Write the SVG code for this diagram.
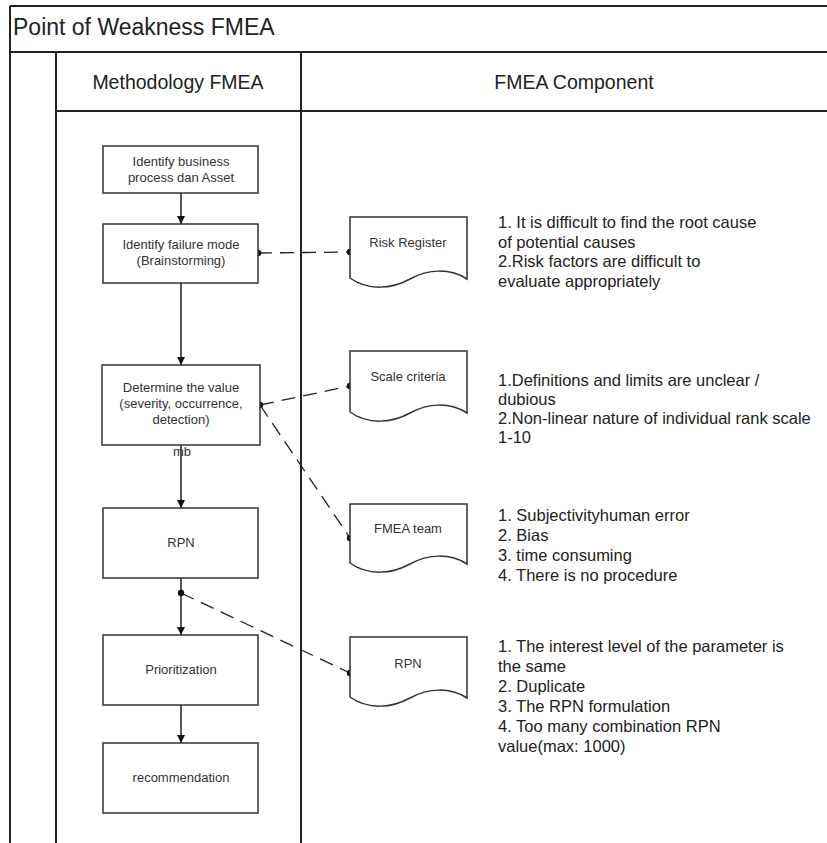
<svg xmlns="http://www.w3.org/2000/svg" width="827" height="843" viewBox="0 0 827 843">
<style>
.frame{stroke:#222;stroke-width:2;fill:none}
.box{fill:#fff;stroke:#333;stroke-width:1.5}
.lbl{font-family:"Liberation Sans",Arial,sans-serif;font-size:13px;fill:#333;text-anchor:middle}
.hdr{font-family:"Liberation Sans",Arial,sans-serif;font-size:19.5px;fill:#222;text-anchor:middle}
.note{font-family:"Liberation Sans",Arial,sans-serif;font-size:16.5px;fill:#222}
.flow{stroke:#222;stroke-width:1.5;fill:none;marker-end:url(#arr)}
.dash{stroke:#222;stroke-width:1.3;fill:none;stroke-dasharray:14 8}
.dot{fill:#111}
</style>
<defs>
<marker id="arr" viewBox="0 0 10 10" refX="10" refY="5" markerWidth="8" markerHeight="8" markerUnits="userSpaceOnUse" orient="auto">
<path d="M0,0 L10,5 L0,10 z" fill="#111"/>
</marker>
</defs>
<rect width="827" height="843" fill="#fff"/>
<g id="frame">
<line class="frame" x1="10" y1="6" x2="827" y2="6"/>
<line class="frame" x1="10" y1="6" x2="10" y2="843"/>
<line class="frame" x1="10" y1="52" x2="827" y2="52"/>
<line class="frame" x1="56" y1="52" x2="56" y2="843"/>
<line class="frame" x1="301" y1="52" x2="301" y2="843"/>
<line class="frame" x1="56" y1="111" x2="827" y2="111" stroke-width="1.5"/>
<text x="13" y="35" font-family="Liberation Sans,Arial,sans-serif" font-size="23" fill="#222">Point of Weakness FMEA</text>
<text class="hdr" x="178" y="89">Methodology FMEA</text>
<text class="hdr" x="574" y="89">FMEA Component</text>
</g>
<g id="connectors">
<line class="flow" x1="181" y1="193" x2="181" y2="224"/>
<line class="flow" x1="181" y1="283" x2="181" y2="365"/>
<line class="flow" x1="181" y1="445" x2="181" y2="508"/>
<line class="flow" x1="181" y1="578" x2="181" y2="635"/>
<line class="flow" x1="181" y1="705" x2="181" y2="743"/>
<line class="dash" x1="258" y1="253" x2="350" y2="252"/>
<line class="dash" x1="260" y1="405" x2="350" y2="386"/>
<line class="dash" x1="260" y1="405" x2="350" y2="538"/>
<line class="dash" x1="181" y1="593" x2="350" y2="673"/>
<circle class="dot" cx="258" cy="253" r="3.2"/>
<circle class="dot" cx="350" cy="252" r="3.2"/>
<circle class="dot" cx="260" cy="405" r="3.2"/>
<circle class="dot" cx="350" cy="386" r="3.2"/>
<circle class="dot" cx="350" cy="538" r="3.2"/>
<circle class="dot" cx="181" cy="593" r="3.2"/>
<circle class="dot" cx="350" cy="673" r="3.2"/>
<text class="lbl" x="182" y="456">mb</text>
</g>
<g id="n1">
<rect class="box" x="103" y="146" width="155" height="47"/>
<text class="lbl" x="181" y="166">Identify business</text>
<text class="lbl" x="181" y="182">process dan Asset</text>
</g>
<g id="n2">
<rect class="box" x="103" y="224" width="155" height="59"/>
<text class="lbl" x="181" y="249">Identify failure mode</text>
<text class="lbl" x="181" y="265">(Brainstorming)</text>
</g>
<g id="n3">
<rect class="box" x="102" y="365" width="158" height="80"/>
<text class="lbl" x="181" y="392">Determine the value</text>
<text class="lbl" x="181" y="408">(severity, occurrence,</text>
<text class="lbl" x="181" y="424">detection)</text>
</g>
<g id="n4">
<rect class="box" x="103" y="508" width="155" height="70"/>
<text class="lbl" x="181" y="547">RPN</text>
</g>
<g id="n5">
<rect class="box" x="103" y="635" width="155" height="70"/>
<text class="lbl" x="181" y="674">Prioritization</text>
</g>
<g id="n6">
<rect class="box" x="103" y="743" width="155" height="70"/>
<text class="lbl" x="181" y="782">recommendation</text>
</g>
<g id="d1">
<path class="box" d="M350,217 H467 V279 C450,268 428,269 410,279 C392,289 368,291 350,278 Z"/>
<text class="lbl" x="408" y="247">Risk Register</text>
</g>
<g id="d2">
<path class="box" d="M350,351 H467 V413 C450,402 428,403 410,413 C392,423 368,425 350,412 Z"/>
<text class="lbl" x="408" y="381">Scale criteria</text>
</g>
<g id="d3">
<path class="box" d="M350,504 H467 V564 C450,553 428,554 410,564 C392,574 368,576 350,563 Z"/>
<text class="lbl" x="408" y="533">FMEA team</text>
</g>
<g id="d4">
<path class="box" d="M350,637 H467 V698 C450,687 428,688 410,698 C392,708 368,710 350,697 Z"/>
<text class="lbl" x="408" y="668">RPN</text>
</g>
<g id="t1">
<text class="note" x="498" y="228">1. It is difficult to find the root cause</text>
<text class="note" x="498" y="248">of potential causes</text>
<text class="note" x="498" y="267">2.Risk factors are difficult to</text>
<text class="note" x="498" y="287">evaluate appropriately</text>
</g>
<g id="t2">
<text class="note" x="498" y="386">1.Definitions and limits are unclear /</text>
<text class="note" x="498" y="405">dubious</text>
<text class="note" x="498" y="424">2.Non-linear nature of individual rank scale</text>
<text class="note" x="498" y="443">1-10</text>
</g>
<g id="t3">
<text class="note" x="498" y="521">1. Subjectivityhuman error</text>
<text class="note" x="498" y="541">2. Bias</text>
<text class="note" x="498" y="561">3. time consuming</text>
<text class="note" x="498" y="581">4. There is no procedure</text>
</g>
<g id="t4">
<text class="note" x="498" y="652">1. The interest level of the parameter is</text>
<text class="note" x="498" y="672">the same</text>
<text class="note" x="498" y="692">2. Duplicate</text>
<text class="note" x="498" y="712">3. The RPN formulation</text>
<text class="note" x="498" y="732">4. Too many combination RPN</text>
<text class="note" x="498" y="752">value(max: 1000)</text>
</g>
</svg>
